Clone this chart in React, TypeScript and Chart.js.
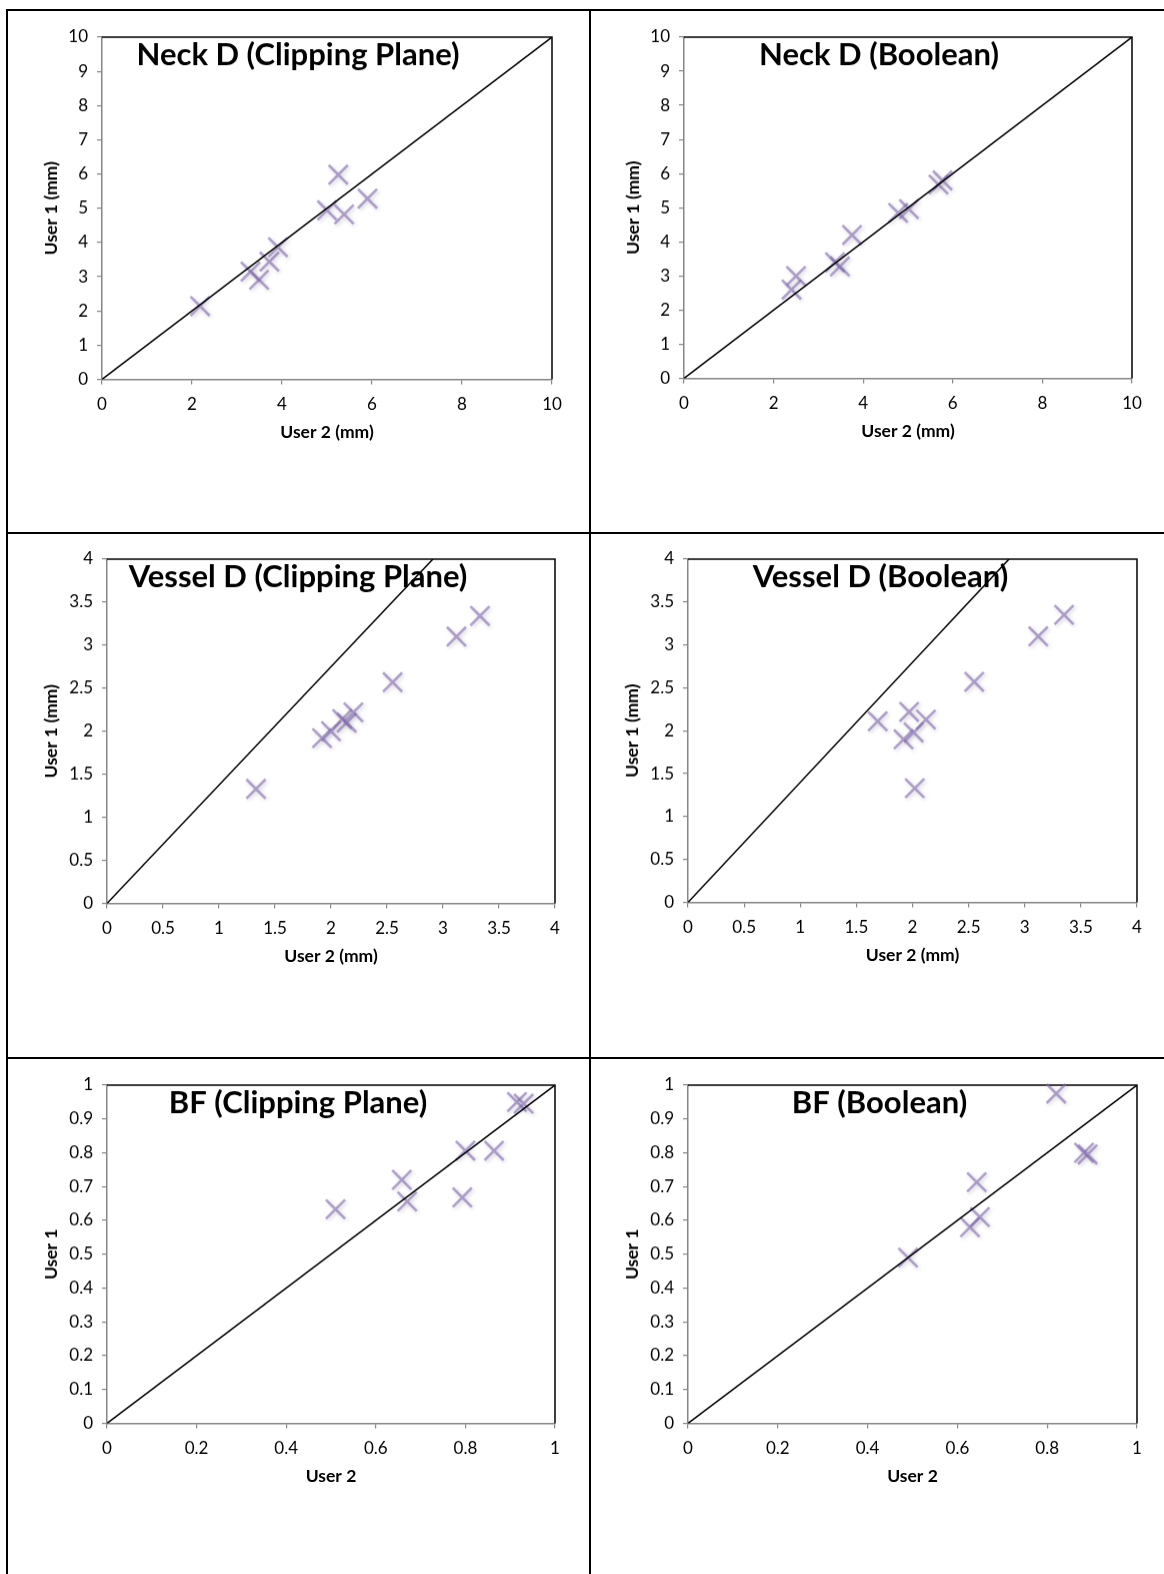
import React, { useEffect, useRef } from "react";
import { Chart, registerables } from "chart.js";

Chart.register(...registerables);

// ---------- Data ----------
// Neck D (Clipping Plane)
const neckClipUser2 = [2.18, 3.3, 3.49, 3.72, 3.91, 5.0, 5.25, 5.38, 5.9];
const neckClipUser1 = [2.14, 3.15, 2.91, 3.44, 3.86, 4.94, 5.98, 4.82, 5.28];
// Neck D (Boolean)
const neckBoolUser2 = [2.4, 2.5, 3.37, 3.48, 3.75, 4.78, 5.02, 5.68, 5.77];
const neckBoolUser1 = [2.6, 3.0, 3.4, 3.28, 4.2, 4.85, 4.96, 5.68, 5.8];
// Vessel D (Clipping Plane)
const vesselClipUser2 = [1.33, 1.92, 2.0, 2.1, 2.14, 2.2, 2.55, 3.12, 3.33];
const vesselClipUser1 = [1.33, 1.92, 2.0, 2.14, 2.1, 2.22, 2.57, 3.1, 3.34];
// Vessel D (Boolean)
const vesselBoolUser2 = [1.69, 1.97, 2.12, 1.92, 2.01, 2.02, 2.55, 3.12, 3.35];
const vesselBoolUser1 = [2.11, 2.22, 2.13, 1.9, 1.98, 1.33, 2.57, 3.1, 3.35];
// BF (Clipping Plane)
const bfClipUser2 = [0.51, 0.658, 0.67, 0.793, 0.8, 0.864, 0.915, 0.93];
const bfClipUser1 = [0.633, 0.72, 0.656, 0.668, 0.806, 0.806, 0.95, 0.945];
// BF (Boolean)
const bfBoolUser2 = [0.49, 0.628, 0.643, 0.65, 0.82, 0.882, 0.89];
const bfBoolUser1 = [0.49, 0.58, 0.713, 0.61, 0.975, 0.8, 0.795];

// Reference lines (drawn shapes, start/end points)
const neckLineX = [0, 10];
const neckLineY = [0, 10];
const vesselClipLineX = [0, 2.91];
const vesselClipLineY = [0, 4];
const vesselBoolLineX = [0, 2.86];
const vesselBoolLineY = [0, 4];
const bfLineX = [0, 1];
const bfLineY = [0, 1];

// Tick labels
const neckXTicks = [0, 2, 4, 6, 8, 10];
const neckYTicks = [0, 1, 2, 3, 4, 5, 6, 7, 8, 9, 10];
const vesselXTicks = [0, 0.5, 1, 1.5, 2, 2.5, 3, 3.5, 4];
const vesselYTicks = [0, 0.5, 1, 1.5, 2, 2.5, 3, 3.5, 4];
const bfXTicks = [0, 0.2, 0.4, 0.6, 0.8, 1];
const bfYTicks = [0, 0.1, 0.2, 0.3, 0.4, 0.5, 0.6, 0.7, 0.8, 0.9, 1];

const titles = [
  "Neck D (Clipping Plane)",
  "Neck D (Boolean)",
  "Vessel D (Clipping Plane)",
  "Vessel D (Boolean)",
  "BF (Clipping Plane)",
  "BF (Boolean)",
];
const xLabels = ["User 2 (mm)", "User 2 (mm)", "User 2 (mm)", "User 2 (mm)", "User 2", "User 2"];
const yLabels = ["User 1 (mm)", "User 1 (mm)", "User 1 (mm)", "User 1 (mm)", "User 1", "User 1"];

// ---------- Layout / style ----------
const FONT = "Lato, 'Open Sans', sans-serif";
const TICK_SIZE = 17;
const AXIS_TITLE_SIZE = 17.5;
const TITLE_SIZE = 31;
const PADL = 110;
const PADT = 30;
const PADR = 30;
const PADB = 10;
const XH = 63.5;

type Panel = {
  title: string;
  xLabel: string;
  yLabel: string;
  xs: number[];
  ys: number[];
  lineX: number[];
  lineY: number[];
  xTicks: number[];
  yTicks: number[];
  plot: { l: number; t: number; r: number; b: number };
  yTitleW: number;
  titleShift: number;
};

const panels: Panel[] = [
  { title: titles[0], xLabel: xLabels[0], yLabel: yLabels[0], xs: neckClipUser2, ys: neckClipUser1, lineX: neckLineX, lineY: neckLineY, xTicks: neckXTicks, yTicks: neckYTicks, plot: { l: 102, t: 37, r: 552, b: 379 }, yTitleW: 61.5, titleShift: -29 },
  { title: titles[1], xLabel: xLabels[1], yLabel: yLabels[1], xs: neckBoolUser2, ys: neckBoolUser1, lineX: neckLineX, lineY: neckLineY, xTicks: neckXTicks, yTicks: neckYTicks, plot: { l: 684, t: 37, r: 1132, b: 378 }, yTitleW: 61.5, titleShift: -29 },
  { title: titles[2], xLabel: xLabels[2], yLabel: yLabels[2], xs: vesselClipUser2, ys: vesselClipUser1, lineX: vesselClipLineX, lineY: vesselClipLineY, xTicks: vesselXTicks, yTicks: vesselYTicks, plot: { l: 107, t: 559, r: 555, b: 903 }, yTitleW: 66.5, titleShift: -33 },
  { title: titles[3], xLabel: xLabels[3], yLabel: yLabels[3], xs: vesselBoolUser2, ys: vesselBoolUser1, lineX: vesselBoolLineX, lineY: vesselBoolLineY, xTicks: vesselXTicks, yTicks: vesselYTicks, plot: { l: 688, t: 559, r: 1137, b: 902 }, yTitleW: 66.5, titleShift: -32 },
  { title: titles[4], xLabel: xLabels[4], yLabel: yLabels[4], xs: bfClipUser2, ys: bfClipUser1, lineX: bfLineX, lineY: bfLineY, xTicks: bfXTicks, yTicks: bfYTicks, plot: { l: 107, t: 1085, r: 555, b: 1423 }, yTitleW: 66.5, titleShift: -33 },
  { title: titles[5], xLabel: xLabels[5], yLabel: yLabels[5], xs: bfBoolUser2, ys: bfBoolUser1, lineX: bfLineX, lineY: bfLineY, xTicks: bfXTicks, yTicks: bfYTicks, plot: { l: 688, t: 1085, r: 1137, b: 1423 }, yTitleW: 66.5, titleShift: -33 },
];

const fmt = (v: number | string) => String(Number(Number(v).toFixed(3)));

function ScatterPanel({ p }: { p: Panel }) {
  const ref = useRef<HTMLCanvasElement | null>(null);
  const plotW = p.plot.r - p.plot.l;
  const plotH = p.plot.b - p.plot.t;
  const W = PADL + plotW + PADR;
  const H = PADT + plotH + XH + PADB;

  useEffect(() => {
    if (!ref.current) return;

    const framePlugin = {
      id: "frame",
      beforeDatasetsDraw(chart: any) {
        const { ctx, chartArea } = chart;
        const { left, right, top, bottom } = chartArea;
        ctx.save();
        // title inside the plot area (drawn below the diagonal line)
        ctx.font = `bold ${TITLE_SIZE}px ${FONT}`;
        ctx.fillStyle = "#000";
        ctx.textAlign = "center";
        ctx.textBaseline = "alphabetic";
        ctx.fillText(p.title, (left + right) / 2 + p.titleShift, top + 28);
        // black plot-area border (top & right)
        ctx.strokeStyle = "#000";
        ctx.lineWidth = 1.5;
        ctx.beginPath();
        ctx.moveTo(left, top);
        ctx.lineTo(right, top);
        ctx.lineTo(right, bottom);
        ctx.stroke();
        ctx.restore();
      },
      beforeDatasetDraw(chart: any, args: any) {
        if (args.index === 1) {
          const ctx = chart.ctx;
          ctx.save();
          ctx.shadowColor = "rgba(0,0,0,0.3)";
          ctx.shadowBlur = 4;
          ctx.shadowOffsetX = 1.5;
          ctx.shadowOffsetY = 1.5;
        }
      },
      afterDatasetDraw(chart: any, args: any) {
        if (args.index === 1) chart.ctx.restore();
      },
    };

    const axisCommon = (ticks: number[], padding: number) => ({
      type: "linear" as const,
      min: ticks[0],
      max: ticks[ticks.length - 1],
      afterBuildTicks: (scale: any) => {
        scale.ticks = ticks.map((v) => ({ value: v }));
      },
      grid: {
        display: true,
        drawOnChartArea: false,
        drawTicks: true,
        tickLength: 5,
        color: "#868686",
        lineWidth: 1.2,
      },
      border: { display: true, color: "#868686", width: 1.5 },
      ticks: {
        padding,
        color: "#000",
        font: { family: FONT, size: TICK_SIZE },
        autoSkip: false,
        maxRotation: 0,
        callback: (v: any) => fmt(v),
      },
    });

    const chart = new Chart(ref.current, {
      type: "scatter",
      data: {
        datasets: [
          {
            data: p.lineX.map((x, i) => ({ x, y: p.lineY[i] })),
            showLine: true,
            borderColor: "#000",
            borderWidth: 1.5,
            pointRadius: 0,
            pointHoverRadius: 0,
            fill: false,
          } as any,
          {
            data: p.xs.map((x, i) => ({ x, y: p.ys[i] })),
            pointStyle: "crossRot",
            pointRadius: 13.5,
            pointHoverRadius: 13.5,
            borderColor: "rgba(130,105,180,0.6)",
            backgroundColor: "rgba(0,0,0,0)",
            borderWidth: 2.6,
            clip: false,
          } as any,
        ],
      },
      options: {
        responsive: false,
        animation: false,
        devicePixelRatio: 1,
        events: [],
        layout: {
          padding: { left: PADL - p.yTitleW, top: PADT, right: PADR, bottom: PADB },
        },
        plugins: {
          legend: { display: false },
          tooltip: { enabled: false },
        },
        scales: {
          x: {
            ...axisCommon(p.xTicks, 10),
            position: "bottom",
            afterFit: (scale: any) => {
              scale.height = XH;
            },
            title: {
              display: true,
              text: p.xLabel,
              color: "#000",
              font: { family: FONT, size: AXIS_TITLE_SIZE, weight: "bold" },
              padding: 0,
            },
          },
          y: {
            ...axisCommon(p.yTicks, 9),
            position: "left",
            afterFit: (scale: any) => {
              scale.width = p.yTitleW;
            },
            title: {
              display: true,
              text: p.yLabel,
              color: "#000",
              font: { family: FONT, size: AXIS_TITLE_SIZE, weight: "bold" },
              padding: 0,
            },
          },
        },
      } as any,
      plugins: [framePlugin],
    });
    return () => chart.destroy();
  }, []);

  return (
    <canvas
      ref={ref}
      width={W}
      height={H}
      style={{
        position: "absolute",
        left: p.plot.l - PADL,
        top: p.plot.t - PADT,
        width: W,
        height: H,
      }}
    />
  );
}

const line = (left: number, top: number, width: number, height: number) => (
  <div
    style={{ position: "absolute", left, top, width, height, background: "#000" }}
  />
);

export default function App() {
  return (
    <div
      style={{
        position: "absolute",
        left: 0,
        top: 0,
        width: 1164,
        height: 1574,
        overflow: "hidden",
        background: "#fff",
      }}
    >
      {line(6, 9, 1164, 2)}
      {line(6, 532, 1164, 2)}
      {line(6, 1057, 1164, 2)}
      {line(6, 9, 2, 1574)}
      {line(589, 9, 2, 1574)}
      {panels.map((p, i) => (
        <ScatterPanel key={i} p={p} />
      ))}
    </div>
  );
}
